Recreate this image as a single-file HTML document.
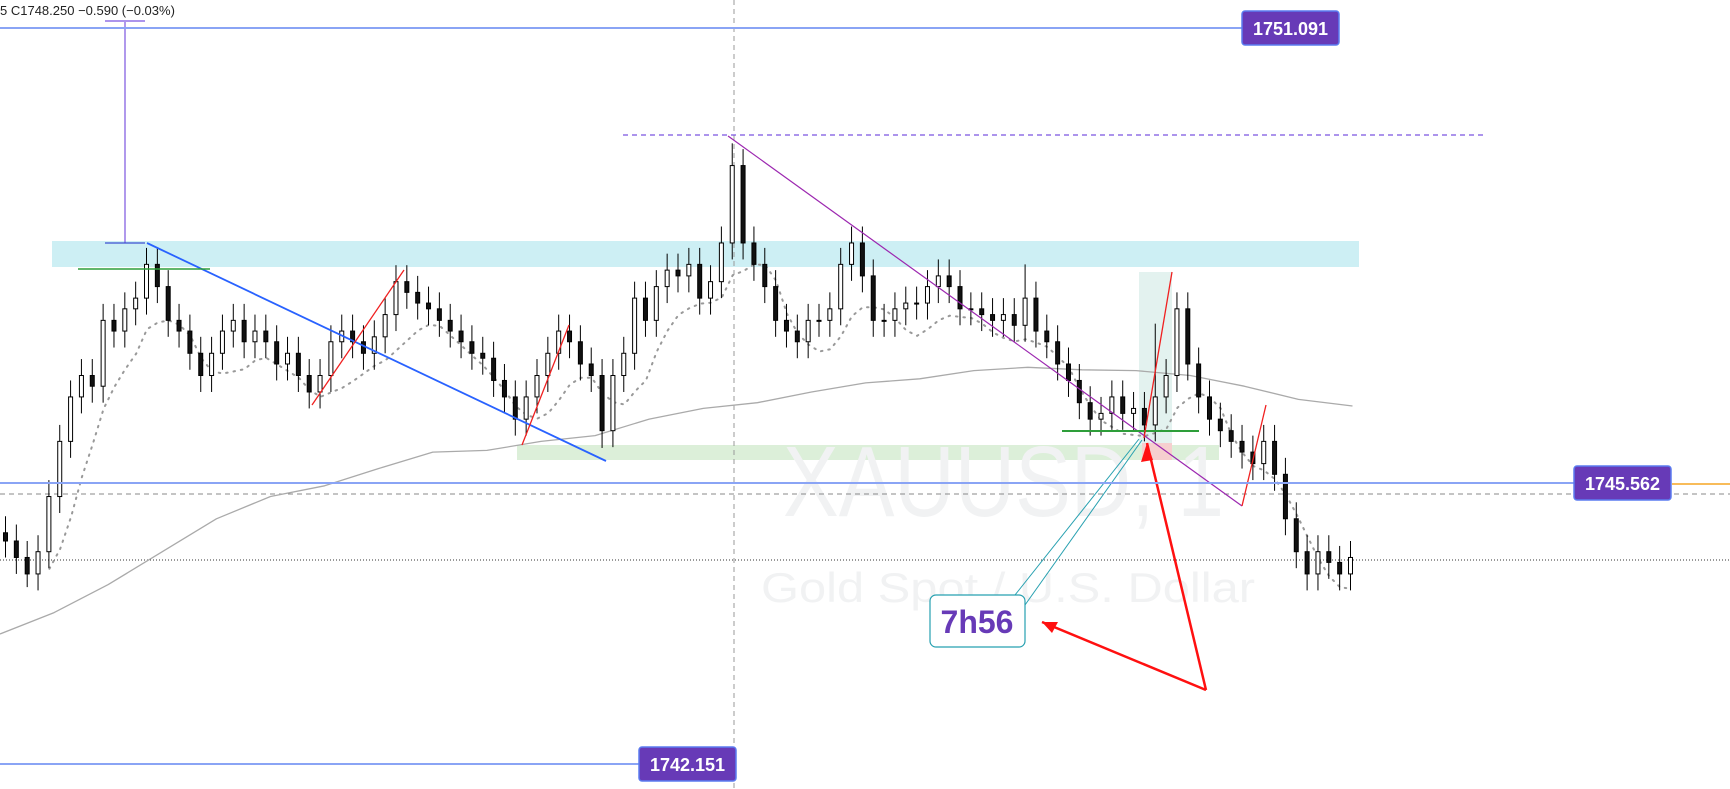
<!DOCTYPE html>
<html><head><meta charset="utf-8"><style>
html,body{margin:0;padding:0;background:#fff;width:1730px;height:789px;overflow:hidden}
svg{display:block;font-family:"Liberation Sans",sans-serif}
</style></head><body>
<svg id="chart" width="1730" height="789" viewBox="0 0 1730 789" xmlns="http://www.w3.org/2000/svg">
</svg>
<script>
const closes=[1744.86,1744.66,1744.46,1744.73,1745.40,1746.07,1746.61,1746.87,1746.74,1747.54,1747.41,1747.68,1747.81,1748.22,1747.95,1747.54,1747.41,1747.14,1746.87,1747.14,1747.41,1747.54,1747.28,1747.41,1747.28,1747.01,1747.14,1746.87,1746.67,1746.87,1747.28,1747.41,1747.28,1747.14,1747.34,1747.61,1748.01,1747.88,1747.75,1747.68,1747.54,1747.41,1747.28,1747.14,1747.08,1746.81,1746.61,1746.34,1746.61,1746.87,1747.14,1747.41,1747.28,1747.01,1746.87,1746.20,1746.87,1747.14,1747.81,1747.54,1747.95,1748.15,1748.08,1748.22,1747.81,1748.01,1748.48,1749.42,1748.48,1748.22,1747.95,1747.54,1747.41,1747.28,1747.54,1747.54,1747.68,1748.22,1748.48,1748.08,1747.54,1747.54,1747.68,1747.75,1747.75,1747.95,1748.08,1747.95,1747.68,1747.68,1747.61,1747.54,1747.61,1747.48,1747.81,1747.41,1747.28,1747.01,1746.81,1746.54,1746.34,1746.41,1746.61,1746.41,1746.47,1746.27,1746.61,1746.87,1747.68,1747.01,1746.61,1746.34,1746.20,1746.07,1745.94,1745.80,1746.07,1745.67,1745.13,1744.73,1744.46,1744.73,1744.60,1744.46,1744.66];
const spikeIdx=[2,55,67,94,106];
const spikeVal=[1744.30,1745.99,1749.69,1748.22,1747.50];
const maPrices=[1743.73,1743.99,1744.33,1744.73,1745.13,1745.40,1745.53,1745.74,1745.94,1745.96,1746.07,1746.14,1746.34,1746.47,1746.54,1746.67,1746.78,1746.83,1746.93,1746.97,1746.94,1746.93,1746.87,1746.74,1746.58,1746.50];
const levels=[1751.091,1745.562,1742.151];

const NS="http://www.w3.org/2000/svg";
const svg=document.getElementById('chart');
const yOf=p=>28+(1751.091-p)*82.33;
const step=1345/(closes.length-1);
const xOf=i=>3+i*step;
function mk(tag,at,parent){const e=document.createElementNS(NS,tag);for(const k in at)e.setAttribute(k,at[k]);(parent||svg).appendChild(e);return e;}

let e;
e=mk('rect',{x:52,y:241,width:1307,height:26,fill:'#cdeff4'});


e=mk('rect',{x:517,y:445,width:702,height:15,fill:'#dcefd9'});


e=mk('rect',{x:1139,y:272,width:33,height:173,fill:'#e3f2ef'});


e=mk('rect',{x:1142,y:443,width:30,height:17,fill:'#f6cfcf'});



e=mk('text',{x:783,y:516,'font-size':100,fill:'#f1f2f3',textLength:441,lengthAdjust:'spacingAndGlyphs'});e.textContent='XAUUSD, 1';


e=mk('text',{x:761,y:602,'font-size':42,fill:'#f1f2f3',textLength:494,lengthAdjust:'spacingAndGlyphs'});e.textContent='Gold Spot / U.S. Dollar';



e=mk('line',{x1:734,y1:0,x2:734,y2:789,stroke:'#999','stroke-dasharray':'5,4','stroke-width':1});


e=mk('line',{x1:0,y1:494,x2:1730,y2:494,stroke:'#888','stroke-dasharray':'5,4','stroke-width':1});


e=mk('line',{x1:0,y1:560,x2:1730,y2:560,stroke:'#333','stroke-dasharray':'1,2','stroke-width':1});


e=mk('line',{x1:623,y1:135,x2:1487,y2:135,stroke:'#7b55e0','stroke-dasharray':'5,4','stroke-width':1.2});



let pts=maPrices.map((p,i)=>(i*54.1).toFixed(1)+','+yOf(p).toFixed(1)).join(' ');
e=mk('polyline',{points:pts,fill:'none',stroke:'#aaa','stroke-width':1.3,'stroke-linejoin':'round'});



let sm=[];for(let i=4;i<closes.length;i++){let s=0;for(let k=i-4;k<=i;k++)s+=closes[k];sm.push((xOf(i)+3).toFixed(1)+','+yOf(s/5-0.3).toFixed(1));}
e=mk('polyline',{points:sm.join(' '),fill:'none',stroke:'#999','stroke-width':2,'stroke-dasharray':'1.5,6','stroke-linecap':'round'});



const cg=mk('g',{});


for(let i=0;i<closes.length;i++){
  const o=i?closes[i-1]:closes[0]+0.1,c=closes[i];
  let hi=Math.max(o,c)+0.2,lo=Math.min(o,c)-0.2;
  const si=spikeIdx.indexOf(i);
  if(si>=0){if(spikeVal[si]>hi)hi=spikeVal[si];else lo=spikeVal[si];}
  const x=xOf(i),g=mk('g',{},cg);
  
  
  mk('line',{x1:x+2.5,x2:x+2.5,y1:yOf(hi),y2:yOf(lo),stroke:'#000','stroke-width':1},g);
  const top=yOf(Math.max(o,c)),h=Math.max(1,yOf(Math.min(o,c))-top);
  mk('rect',{x:x+0.5,y:top,width:4,height:h,fill:c>=o?'#fff':'#111',stroke:'#000','stroke-width':1},g);
}

function ln(x1,y1,x2,y2,col,w,name){const l=mk('line',{x1,y1,x2,y2,stroke:col,'stroke-width':w});return l;}
ln(147,243,606,461,'#2962ff',1.8,'blue-trendline');
ln(728,136,1242,506,'#9c27b0',1.2,'purple-trendline');
ln(78,269,210,269,'#2e9e3a',1.6,'green-level-left');
ln(1062,431,1199,431,'#2e9e3a',2,'green-level-right');
ln(125,22,125,243,'#7b55e0',1.2,'measure-arrow-line');
ln(105,21,145,21,'#7b55e0',1.2,'measure-arrow-cap');
ln(105,243,145,243,'#3d4fd0',1.2,'measure-base-cap');
ln(312,405,404,270,'#f02020',1.3,'red-swing-1');
ln(522,445,569,325,'#f02020',1.3,'red-swing-2');
ln(1144,438,1172,272,'#f02020',1.3,'red-swing-3');
ln(1242,506,1266,405,'#f02020',1.3,'red-swing-4');
ln(1206,690,1147,443,'#ff1010',2.5,'red-arrow-up');
ln(1206,690,1042,622,'#ff1010',2.5,'red-arrow-left');
mk('polygon',{points:'1147,443 1141,462 1153,460',fill:'#ff1010'});
mk('polygon',{points:'1042,622 1058,622 1052,633',fill:'#ff1010'});
ln(1015,595,1139,439,'#26a0b0',1,'callout-line-1');
ln(1025,605,1142,440,'#26a0b0',1,'callout-line-2');

e=mk('rect',{x:930,y:595,width:95,height:52,rx:6,fill:'#fff',stroke:'#26a0b0','stroke-width':1.2});


e=mk('text',{x:977,y:633,'font-size':32,'font-weight':'bold',fill:'#673ab7','text-anchor':'middle'});e.textContent='7h56';



const lx=[[0,1242],[0,1574],[0,639]],bx=[1242,1574,639];
levels.forEach((p,i)=>{
  const y=Math.round(yOf(p));
  const l=mk('line',{x1:lx[i][0],y1:y,x2:lx[i][1],y2:y,stroke:'#8aa4f5','stroke-width':2});
  
  
  const r=mk('rect',{x:bx[i],y:y-17,width:97,height:34,rx:3,fill:'#673ab7',stroke:'#5b7cf0','stroke-width':1.5});
  
  
  const t=mk('text',{x:bx[i]+48.5,y:y+7,'font-size':18,'font-weight':'bold',fill:'#fff','text-anchor':'middle'});t.textContent=p.toFixed(3);
  
  
});
e=mk('line',{x1:1672,y1:484,x2:1730,y2:484,stroke:'#f5a623','stroke-width':1.5});



e=mk('text',{x:0,y:15,'font-size':13,fill:'#222'});e.textContent='5  C1748.250  −0.590 (−0.03%)';
e.setAttribute('xml:space','preserve');


</script>
</body></html>
